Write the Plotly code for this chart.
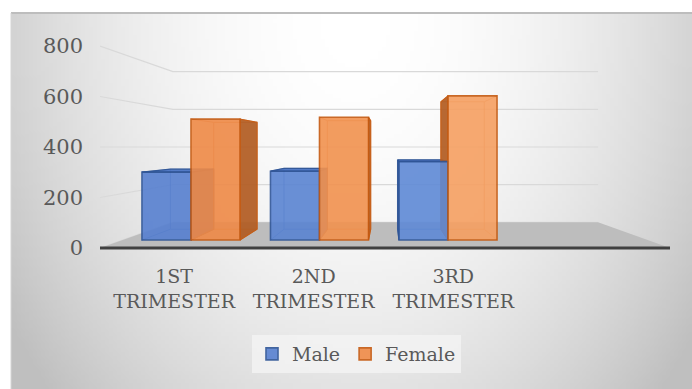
import base64
import struct
import zlib

import plotly.graph_objects as go

# ---- data -------------------------------------------------------------
categories = ["1ST<br>TRIMESTER", "2ND<br>TRIMESTER", "3RD<br>TRIMESTER"]
male = [292, 296, 337]
female = [520, 528, 620]
y_ticks = [0, 200, 400, 600, 800]

# ---- page / perspective geometry -------------------------------------
W, H = 692, 389
PL, PR, PT, PB = 100, 672, 30, 252          # plot area in page pixels
X0_PX, X_STEP = 191.0, 128.5                 # category 0 centre, px per category
HORIZON_PX, V_SCALE = 147.0, 0.2325          # eye level (px) and px per unit on bar plane
VH = 400.0                                   # value sitting on the eye level
XV = 1.525                                   # vanishing point along x (category units)
F_FRONT, F_BACK, F_BAR_BACK = 1.086, 0.81, 0.884   # depth scale factors
BW = 0.3815                                  # bar width (category units)

x_range = [(PL - X0_PX) / X_STEP, (PR - X0_PX) / X_STEP]
y_range = [VH - (PB - HORIZON_PX) / V_SCALE, VH + (HORIZON_PX - PT) / V_SCALE]


def proj(xw, v, f):
    """Project a point at depth factor f towards the vanishing point."""
    return XV + f * (xw - XV), VH + f * (v - VH)


XW_L = XV + ((PL - X0_PX) / X_STEP - XV) / F_FRONT   # left wall
XW_R = XV + ((670 - X0_PX) / X_STEP - XV) / F_FRONT  # right end of floor


def px_to_paper(px, py):
    return (px - PL) / (PR - PL), (PB - py) / (PB - PT)


# ---- soft grey background -------------------------------------------
def gradient_png(w, h):
    rows = []
    for j in range(h):
        row = bytearray([0])
        for i in range(w):
            px = 11 + (i + 0.5) / w * (W - 11)
            py = 13 + (j + 0.5) / h * (H - 13)
            dx = (px - 355) / 350.0
            dy = (py - 20) / 470.0
            r2 = min(dx * dx + dy * dy, 1.4)
            g = int(round(255 * (1 - 0.18 * r2)))
            row += bytes((g, g, g))
        rows.append(bytes(row))
    raw = b"".join(rows)

    def chunk(tag, data):
        return (struct.pack(">I", len(data)) + tag + data
                + struct.pack(">I", zlib.crc32(tag + data) & 0xFFFFFFFF))

    png = (b"\x89PNG\r\n\x1a\n"
           + chunk(b"IHDR", struct.pack(">IIBBBBB", w, h, 8, 2, 0, 0, 0))
           + chunk(b"IDAT", zlib.compress(raw, 9))
           + chunk(b"IEND", b""))
    return "data:image/png;base64," + base64.b64encode(png).decode()


fig = go.Figure()

# ---- back wall / side wall gridlines --------------------------------
gx, gy = [], []
for v in y_ticks:
    for p in (proj(XW_L, v, F_FRONT), proj(XW_L, v, F_BACK), proj(XW_R, v, F_BACK)):
        gx.append(p[0])
        gy.append(p[1])
    gx.append(None)
    gy.append(None)
fig.add_trace(go.Scatter(x=gx, y=gy, mode="lines", line=dict(color="#d9d9d9", width=1.2),
                         hoverinfo="skip", showlegend=False))

# ---- floor -----------------------------------------------------------
floor = [proj(XW_L, 0, F_FRONT), proj(XW_L, 0, F_BACK), proj(XW_R, 0, F_BACK),
         proj(XW_R, 0, F_FRONT), proj(XW_L, 0, F_FRONT)]
fig.add_trace(go.Scatter(x=[p[0] for p in floor], y=[p[1] for p in floor], mode="lines",
                         fill="toself", fillcolor="#bdbdbd", line=dict(width=0),
                         hoverinfo="skip", showlegend=False))
front_edge = [proj(XW_L, 0, F_FRONT), proj(XW_R, 0, F_FRONT)]
fig.add_trace(go.Scatter(x=[p[0] for p in front_edge], y=[p[1] for p in front_edge],
                         mode="lines", line=dict(color="#404040", width=3.2),
                         hoverinfo="skip", showlegend=False))

# ---- hidden depth of the columns (faces & back edges) --------------
series = [
    ("Male", male, -BW, ["#5780d0", "#5a84d2", "#5f8ad6"], "#2f5597", "#3a62ad", "#4a74c4"),
    ("Female", female, 0.0, ["#ef8a47", "#f2924f", "#f6a062"], "#c55a11", "#b25c22", "#d97a3a"),
]

for name, vals, off, fronts, edge, side, top in series:
    for i, v in enumerate(vals):
        xl, xr = i + off, i + off + BW
        # back edges, seen through the translucent front
        ex, ey = [], []
        corners = [(xl, 0), (xr, 0), (xr, v), (xl, v)]
        back = [proj(cx, cy, F_BAR_BACK) for cx, cy in corners]
        for p in back + [back[0]]:
            ex.append(p[0]); ey.append(p[1])
        ex.append(None); ey.append(None)
        for cx, cy in corners:
            a, b = proj(cx, cy, 1.0), proj(cx, cy, F_BAR_BACK)
            ex += [a[0], b[0], None]
            ey += [a[1], b[1], None]
        fig.add_trace(go.Scatter(x=ex, y=ey, mode="lines",
                                 line=dict(color=edge, width=1), opacity=0.55,
                                 hoverinfo="skip", showlegend=False))
        # visible side face
        xs = xr if (xl + xr) / 2 < XV else xl
        face = [proj(xs, 0, 1.0), proj(xs, v, 1.0), proj(xs, v, F_BAR_BACK),
                proj(xs, 0, F_BAR_BACK), proj(xs, 0, 1.0)]
        fig.add_trace(go.Scatter(x=[p[0] for p in face], y=[p[1] for p in face], mode="lines",
                                 fill="toself", fillcolor=side, line=dict(color=edge, width=1.2),
                                 opacity=0.92, hoverinfo="skip", showlegend=False))
        # top face (only seen when below eye level)
        if v < VH:
            tf = [proj(xl, v, 1.0), proj(xr, v, 1.0), proj(xr, v, F_BAR_BACK),
                  proj(xl, v, F_BAR_BACK), proj(xl, v, 1.0)]
            fig.add_trace(go.Scatter(x=[p[0] for p in tf], y=[p[1] for p in tf], mode="lines",
                                     fill="toself", fillcolor=top, line=dict(color=edge, width=1.2),
                                     opacity=0.95, hoverinfo="skip", showlegend=False))

# ---- column fronts ---------------------------------------------------
for name, vals, off, fronts, edge, side, top in series:
    fig.add_trace(go.Bar(
        x=list(range(len(vals))), y=vals, name=name,
        width=[BW] * len(vals), offset=[off] * len(vals),
        marker=dict(color=fronts, line=dict(color=edge, width=1.6)),
        opacity=0.9, xaxis="x2", yaxis="y2", hoverinfo="skip",
    ))

# ---- layout ------------------------------------------------------------
bg_x0, bg_y1 = px_to_paper(11, 13)
bg_x1, bg_y0 = px_to_paper(W, H)

font_family = "DejaVu Serif"
text_color = "#595959"

fig.update_layout(
    width=W, height=H,
    margin=dict(l=PL, r=W - PR, t=PT, b=H - PB, pad=0),
    paper_bgcolor="white", plot_bgcolor="rgba(0,0,0,0)",
    barmode="overlay",
    font=dict(family=font_family, color=text_color),
    xaxis=dict(range=x_range, showgrid=False, zeroline=False, showline=False,
               tickmode="array",
               tickvals=[proj(i, 0, F_FRONT)[0] for i in range(len(categories))],
               ticktext=categories, ticks="", ticklabelstandoff=11,
               tickfont=dict(size=19, family=font_family, color=text_color)),
    yaxis=dict(range=y_range, showgrid=False, zeroline=False, showline=False,
               tickmode="array",
               tickvals=[proj(0, v, F_FRONT)[1] for v in y_ticks],
               ticktext=[str(v) for v in y_ticks], ticks="", ticklabelstandoff=16,
               tickfont=dict(size=21, family=font_family, color=text_color)),
    xaxis2=dict(range=x_range, overlaying="x", anchor="y2", visible=False),
    yaxis2=dict(range=y_range, overlaying="y", anchor="x2", visible=False),
    legend=dict(orientation="h", x=px_to_paper(252, 0)[0], y=px_to_paper(0, 335)[1],
                xanchor="left", yanchor="top", bgcolor="rgba(244,244,244,0.75)",
                font=dict(size=19, family=font_family, color=text_color),
                itemwidth=30, tracegroupgap=0),
    images=[dict(source=gradient_png(170, 95), xref="paper", yref="paper",
                 x=bg_x0, y=bg_y1, sizex=bg_x1 - bg_x0, sizey=bg_y1 - bg_y0,
                 xanchor="left", yanchor="top", sizing="stretch", layer="below")],
    shapes=[dict(type="line", xref="paper", yref="paper",
                 x0=bg_x0, x1=bg_x1, y0=bg_y1, y1=bg_y1,
                 line=dict(color="#bdbdbd", width=2)),
            dict(type="line", xref="paper", yref="paper",
                 x0=bg_x0, x1=bg_x0, y0=bg_y1, y1=bg_y0,
                 line=dict(color="#d6d6d6", width=1))],
    showlegend=True,
)

fig.write_html("out.html")
